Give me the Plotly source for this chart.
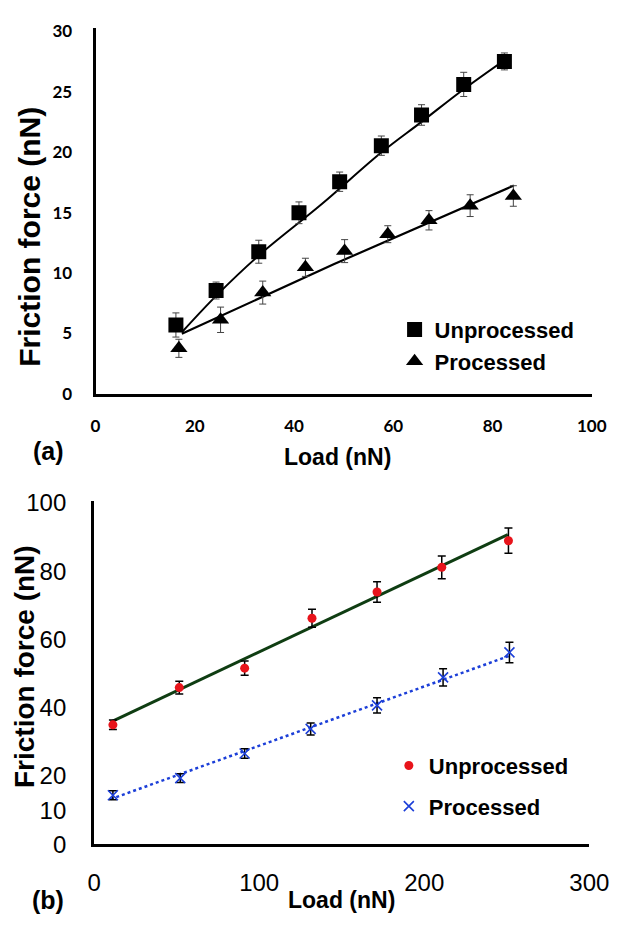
import plotly.graph_objects as go

# ---------------- Panel (a) ----------------
a_unproc_load = [16.2, 24.3, 32.9, 41.0, 49.2, 57.6, 65.7, 74.2, 82.4]
a_unproc_force = [5.7, 8.55, 11.76, 14.98, 17.55, 20.53, 23.07, 25.6, 27.5]
a_unproc_err = [1.0, 0.7, 0.95, 0.9, 0.8, 0.8, 0.85, 1.0, 0.7]

a_proc_load = [16.8, 25.2, 33.7, 42.3, 50.2, 58.9, 67.2, 75.5, 84.2]
a_proc_force = [3.77, 6.13, 8.38, 10.47, 11.81, 13.21, 14.36, 15.57, 16.37]
a_proc_err = [0.75, 1.05, 0.95, 0.75, 0.95, 0.7, 0.8, 0.9, 0.85]

# trend curves of panel (a)
a_unproc_fit_load = [17.4, 24.5, 32.8, 45.6, 57.7, 65.7, 74.2, 83.6]
a_unproc_fit_force = [5.1, 8.19, 11.41, 15.7, 20.0, 22.5, 25.2, 27.95]
a_proc_fit_load = [17.4, 48.1, 84.3]
a_proc_fit_force = [4.97, 10.74, 17.23]

a_xticks = [0, 20, 40, 60, 80, 100]
a_yticks = [0, 5, 10, 15, 20, 25, 30]

# ---------------- Panel (b) ----------------
b_unproc_load = [11.4, 51.6, 91.2, 132.0, 171.4, 210.6, 251.0]
b_unproc_force = [35.0, 45.9, 51.6, 66.2, 73.9, 81.1, 88.9]
b_unproc_err = [1.4, 1.85, 2.1, 2.6, 3.0, 3.3, 3.7]

b_proc_load = [11.4, 52.2, 91.2, 131.2, 171.4, 211.4, 251.6]
b_proc_force = [14.4, 19.4, 26.6, 33.8, 40.7, 48.9, 56.2]
b_proc_err = [1.3, 1.3, 1.4, 1.75, 2.2, 2.5, 3.0]

b_unproc_fit_load = [10.0, 250.6]
b_unproc_fit_force = [35.8, 90.7]
b_proc_fit_load = [10.0, 251.6]
b_proc_fit_force = [13.25, 55.2]

b_xticks = [0, 100, 200, 300]
b_yticks = [0, 10, 20, 40, 60, 80, 100]

W, H = 628, 926
BOLD = "Liberation Sans, Arial, sans-serif"
CAL = "Lato, Open Sans, sans-serif"


def px(x):
    return x / W


def py(y):
    return 1 - y / H


fig = go.Figure()

# panel (a) trend curves
fig.add_trace(go.Scatter(x=a_unproc_fit_load, y=a_unproc_fit_force, mode="lines",
                         line=dict(color="black", width=2, shape="spline"),
                         showlegend=False, hoverinfo="skip", xaxis="x", yaxis="y"))
fig.add_trace(go.Scatter(x=a_proc_fit_load, y=a_proc_fit_force, mode="lines",
                         line=dict(color="black", width=2.2),
                         showlegend=False, hoverinfo="skip", xaxis="x", yaxis="y"))
# panel (a) measurements
fig.add_trace(go.Scatter(x=a_unproc_load, y=a_unproc_force, mode="markers", name="Unprocessed",
                         marker=dict(symbol="square", size=15, color="black"),
                         error_y=dict(type="data", array=a_unproc_err, color="#444", thickness=1, width=3.5),
                         legend="legend", xaxis="x", yaxis="y"))
fig.add_trace(go.Scatter(x=a_proc_load, y=a_proc_force, mode="markers", name="Processed",
                         marker=dict(symbol="triangle-up", size=15, color="black"),
                         error_y=dict(type="data", array=a_proc_err, color="#444", thickness=1, width=3.5),
                         legend="legend", xaxis="x", yaxis="y"))

# panel (b) trend lines
fig.add_trace(go.Scatter(x=b_unproc_fit_load, y=b_unproc_fit_force, mode="lines",
                         line=dict(color="#0f3d12", width=3),
                         showlegend=False, hoverinfo="skip", xaxis="x2", yaxis="y2"))
fig.add_trace(go.Scatter(x=b_proc_fit_load, y=b_proc_fit_force, mode="lines",
                         line=dict(color="#1c3fd8", width=2.5, dash="dot"),
                         showlegend=False, hoverinfo="skip", xaxis="x2", yaxis="y2"))
# panel (b) measurements
fig.add_trace(go.Scatter(x=b_unproc_load, y=b_unproc_force, mode="markers", name="Unprocessed",
                         marker=dict(symbol="circle", size=9, color="#e8141b"),
                         error_y=dict(type="data", array=b_unproc_err, color="black", thickness=1.5, width=4),
                         legend="legend2", legendgroup="b_unproc", xaxis="x2", yaxis="y2"))
fig.add_trace(go.Scatter(x=b_proc_load, y=b_proc_force, mode="markers", name="Processed",
                         marker=dict(symbol="x-thin", size=10, color="#1c3fd8",
                                     line=dict(color="#1c3fd8", width=1.6)),
                         error_y=dict(type="data", array=b_proc_err, color="black", thickness=1.5, width=4),
                         legend="legend2", legendgroup="b_proc", xaxis="x2", yaxis="y2"))

axis_common = dict(showline=True, linecolor="black", linewidth=3, showgrid=False,
                   zeroline=False, ticks="", mirror=False)

fig.update_layout(
    width=W, height=H,
    margin=dict(l=0, r=0, t=0, b=0),
    paper_bgcolor="white", plot_bgcolor="white",
    xaxis=dict(domain=[px(92.5), px(611)], range=[0, 100], anchor="y",
               tickvals=a_xticks, tickfont=dict(family=CAL, size=17, color="black", weight="bold"),
               ticklabelstandoff=15, **axis_common),
    yaxis=dict(domain=[py(392.5), py(16)], range=[0, 30.3], anchor="x",
               tickvals=a_yticks, tickfont=dict(family=CAL, size=17, color="black", weight="bold"),
               ticklabelstandoff=17, **axis_common),
    xaxis2=dict(domain=[px(91), px(608.5)], range=[0, 300], anchor="y2",
                tickvals=b_xticks, tickfont=dict(family=BOLD, size=24, color="black"),
                ticklabelstandoff=15, **axis_common),
    yaxis2=dict(domain=[py(855.5), py(503)], range=[0, 100.4], anchor="x2",
                tickvals=b_yticks, tickfont=dict(family=BOLD, size=24, color="black"),
                ticklabelstandoff=20, **axis_common),
    legend=dict(x=px(405), y=py(305), xanchor="left", yanchor="top",
                font=dict(family=BOLD, size=22, color="black", weight="bold"),
                bgcolor="rgba(0,0,0,0)", traceorder="normal", itemwidth=30),
    legend2=dict(x=px(399), y=py(753), xanchor="left", yanchor="top",
                 font=dict(family=BOLD, size=22, color="black", weight="bold"),
                 bgcolor="rgba(0,0,0,0)", traceorder="grouped", tracegroupgap=9,
                 itemwidth=30),
)

annotations = [
    dict(text="Friction force (nN)", x=px(24), y=py(231), textangle=-90,
         font=dict(family=BOLD, size=30, color="black", weight="bold")),
    dict(text="Load (nN)", x=px(345), y=py(457),
         font=dict(family=BOLD, size=23, color="black", weight="bold")),
    dict(text="(a)", x=px(43), y=py(451),
         font=dict(family=BOLD, size=25, color="black", weight="bold")),
    dict(text="Friction force (nN)", x=px(19), y=py(673), textangle=-90,
         font=dict(family=BOLD, size=28, color="black", weight="bold")),
    dict(text="Load (nN)", x=px(350), y=py(913),
         font=dict(family=BOLD, size=23, color="black", weight="bold")),
    dict(text="(b)", x=px(43), y=py(913),
         font=dict(family=BOLD, size=25, color="black", weight="bold")),
]
for a in annotations:
    a.update(xref="paper", yref="paper", xanchor="center", yanchor="middle", showarrow=False)
fig.update_layout(annotations=annotations)

fig.write_html("out.html")
